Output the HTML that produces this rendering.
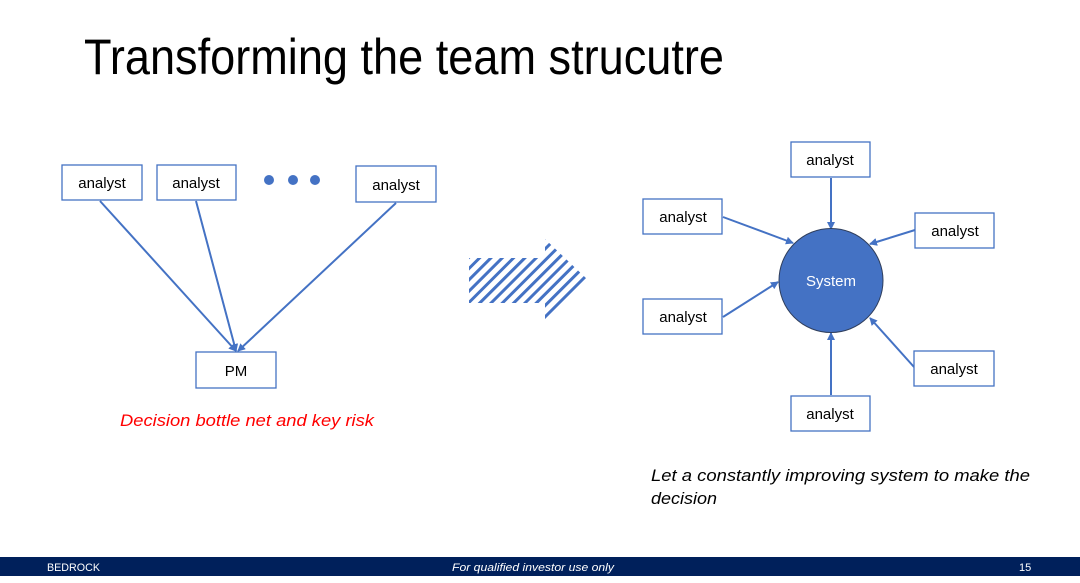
<!DOCTYPE html>
<html><head><meta charset="utf-8"><style>
html,body{margin:0;padding:0;background:#fff;}
svg{display:block;}
text{font-family:"Liberation Sans",sans-serif;}
</style></head><body>
<svg width="1080" height="583" viewBox="0 0 1080 583" xmlns="http://www.w3.org/2000/svg">
<defs>
<marker id="ah" markerWidth="8" markerHeight="8" refX="7" refY="4" orient="auto" markerUnits="userSpaceOnUse">
<path d="M0,0 L8,4 L0,8 z" fill="#4472c4"/>
</marker>
<pattern id="st" width="8" height="8" patternUnits="userSpaceOnUse" patternTransform="rotate(45)">
<rect x="0" y="0" width="3" height="8" fill="#4472c4"/>
</pattern>
</defs>
<text x="84" y="74" font-size="50" textLength="640" lengthAdjust="spacingAndGlyphs" fill="#000">Transforming the team strucutre</text>

<g stroke="#4472c4" stroke-width="2" fill="none">
<line x1="100" y1="201" x2="236" y2="351" marker-end="url(#ah)"/>
<line x1="196" y1="201" x2="236" y2="351" marker-end="url(#ah)"/>
<line x1="396" y1="203" x2="238" y2="351" marker-end="url(#ah)"/>
</g>
<g fill="#fff" stroke="#4472c4" stroke-width="1.3">
<rect x="62" y="165" width="80" height="35"/>
<rect x="157" y="165" width="79" height="35"/>
<rect x="356" y="166" width="80" height="36"/>
<rect x="196" y="352" width="80" height="36"/>
</g>
<g font-size="15" text-anchor="middle" fill="#000">
<text x="102" y="188">analyst</text>
<text x="196" y="188">analyst</text>
<text x="396" y="190">analyst</text>
<text x="236" y="376">PM</text>
</g>
<g fill="#4472c4"><circle cx="269" cy="180" r="5"/><circle cx="293" cy="180" r="5"/><circle cx="315" cy="180" r="5"/></g>
<text x="120" y="426" font-size="17" font-style="italic" fill="#ff0000" textLength="254" lengthAdjust="spacingAndGlyphs">Decision bottle net and key risk</text>

<polygon points="469,258 545,258 545,239 588,280 545,322 545,303 469,303" fill="url(#st)"/>

<g stroke="#4472c4" stroke-width="2" fill="none">
<line x1="831" y1="178" x2="831" y2="229" marker-end="url(#ah)"/>
<line x1="723" y1="217" x2="793" y2="243" marker-end="url(#ah)"/>
<line x1="915" y1="230" x2="870" y2="244" marker-end="url(#ah)"/>
<line x1="723" y1="317" x2="778" y2="282" marker-end="url(#ah)"/>
<line x1="914" y1="367" x2="870" y2="318" marker-end="url(#ah)"/>
<line x1="831" y1="395" x2="831" y2="333" marker-end="url(#ah)"/>
</g>
<circle cx="831" cy="280.5" r="52" fill="#4472c4" stroke="#2f3e5c" stroke-width="1"/>
<text x="831" y="286" font-size="15" text-anchor="middle" fill="#fff">System</text>
<g fill="#fff" stroke="#4472c4" stroke-width="1.3">
<rect x="791" y="142" width="79" height="35"/>
<rect x="643" y="199" width="79" height="35"/>
<rect x="915" y="213" width="79" height="35"/>
<rect x="643" y="299" width="79" height="35"/>
<rect x="914" y="351" width="80" height="35"/>
<rect x="791" y="396" width="79" height="35"/>
</g>
<g font-size="15" text-anchor="middle" fill="#000">
<text x="830" y="165">analyst</text>
<text x="683" y="222">analyst</text>
<text x="955" y="236">analyst</text>
<text x="683" y="322">analyst</text>
<text x="954" y="374">analyst</text>
<text x="830" y="419">analyst</text>
</g>
<text x="651" y="481" font-size="17" font-style="italic" fill="#000" textLength="379" lengthAdjust="spacingAndGlyphs">Let a constantly improving system to make the</text>
<text x="651" y="504" font-size="17" font-style="italic" fill="#000" textLength="66" lengthAdjust="spacingAndGlyphs">decision</text>

<rect x="0" y="557" width="1080" height="19" fill="#00205b"/>
<text x="47" y="571" font-size="11" fill="#fff" textLength="53" lengthAdjust="spacingAndGlyphs">BEDROCK</text>
<text x="452" y="571" font-size="11" font-style="italic" fill="#fff" textLength="162" lengthAdjust="spacingAndGlyphs">For qualified investor use only</text>
<text x="1019" y="571" font-size="11" fill="#fff">15</text>
</svg>
</body></html>
